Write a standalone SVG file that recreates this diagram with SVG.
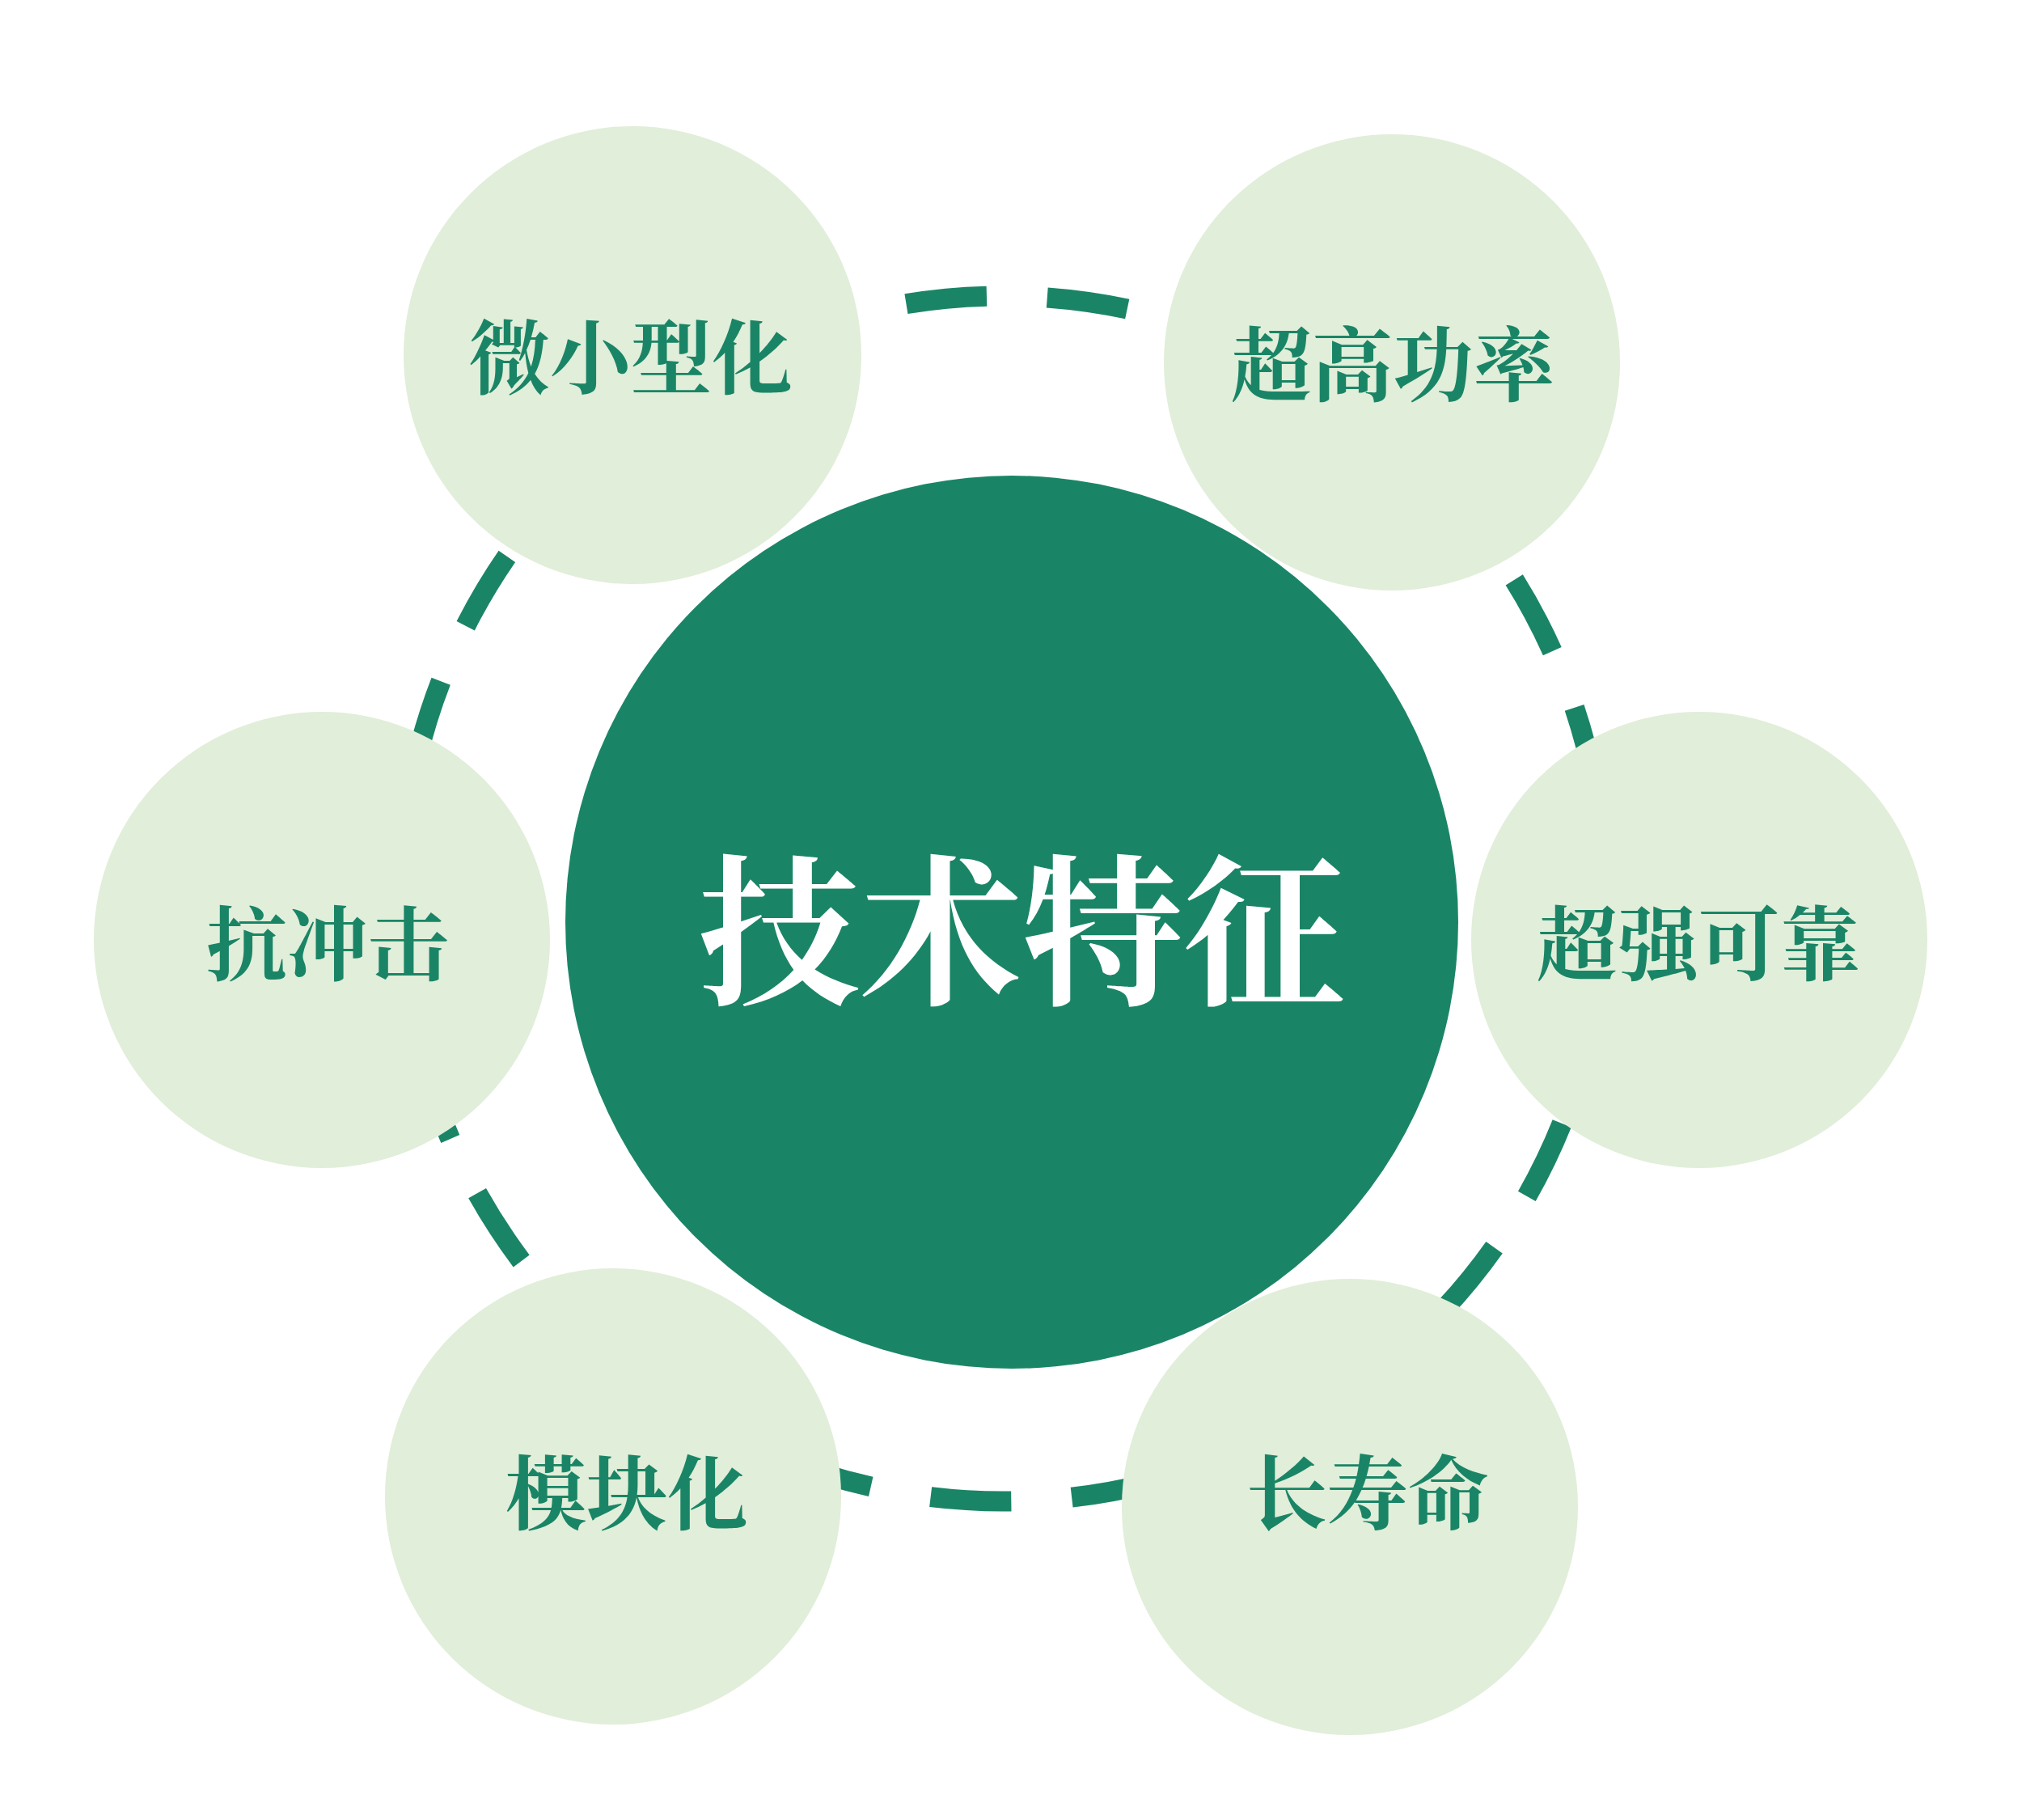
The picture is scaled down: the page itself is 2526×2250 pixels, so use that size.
<svg xmlns="http://www.w3.org/2000/svg" width="2526" height="2250" viewBox="0 0 2526 2250">
  <style>
    .ring { fill: none; stroke: #1a8566; stroke-width: 25; stroke-dasharray: 100 75; }
    .node { fill: #e1eed9; }
    .hub { fill: #1a8566; }
    .label { font-family: "Noto Serif CJK SC", "Noto Sans CJK SC", sans-serif; font-weight: 700; font-size: 100px; fill: #1a8566; text-anchor: middle; }
    .hub-label { font-family: "Noto Serif CJK SC", "Noto Sans CJK SC", sans-serif; font-weight: 700; font-size: 200px; fill: #ffffff; text-anchor: middle; }
  </style>
  <rect width="2526" height="2250" fill="#ffffff"/>
  <g id="connectors">
    <path class="ring" d="M 495 1111 A 745 745 0 1 1 1985 1111 A 745 745 0 1 1 495 1111"/>
  </g>
  <g id="hub">
    <circle class="hub" cx="1251" cy="1140" r="552"/>
    <text class="hub-label" x="1263" y="1226">技术特征</text>
  </g>
  <g id="node-miniaturization">
    <circle class="node" cx="782" cy="439" r="283"/>
    <text class="label" x="780" y="479">微小型化</text>
  </g>
  <g id="node-high-power">
    <circle class="node" cx="1721" cy="448" r="282"/>
    <text class="label" x="1722" y="488">超高功率</text>
  </g>
  <g id="node-shock-resistance">
    <circle class="node" cx="398" cy="1162" r="282"/>
    <text class="label" x="405" y="1204">抗冲击</text>
  </g>
  <g id="node-reliability">
    <circle class="node" cx="2101" cy="1162" r="282"/>
    <text class="label" x="2100" y="1204">超强可靠</text>
  </g>
  <g id="node-modular">
    <circle class="node" cx="758" cy="1850" r="282"/>
    <text class="label" x="775" y="1883">模块化</text>
  </g>
  <g id="node-long-life">
    <circle class="node" cx="1669" cy="1863" r="282"/>
    <text class="label" x="1691" y="1883">长寿命</text>
  </g>
</svg>
